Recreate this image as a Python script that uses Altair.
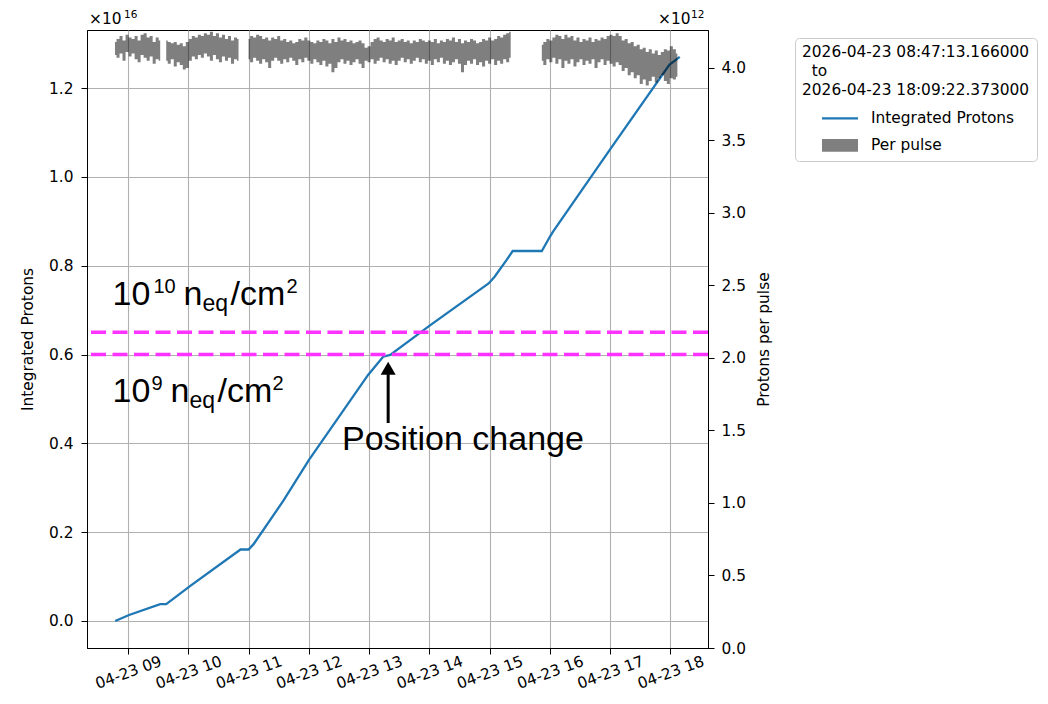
import altair as alt
import pandas as pd

DAY = "2026-04-23"

# ---------------- data ----------------
# Integrated protons (units of 1e16)
line_times = ["08:47:13", "09:01:00", "09:32:00", "09:38:00", "10:02:00", "10:52:00",
              "11:00:00", "11:05:00", "11:35:00", "12:00:00", "12:59:00", "13:14:00",
              "13:21:00", "14:01:00", "14:59:00", "15:05:00", "15:17:00", "15:23:00",
              "15:52:00", "16:00:00", "16:03:00", "17:00:00", "17:59:00", "18:09:22"]
line_vals = [0.000, 0.0135, 0.038, 0.038, 0.079, 0.161,
             0.161, 0.173, 0.272, 0.362, 0.554, 0.595,
             0.599, 0.666, 0.760, 0.775, 0.813, 0.833,
             0.833, 0.865, 0.876, 1.062, 1.252, 1.270]

# Protons per pulse band (units of 1e12): low / high envelope, 3-minute samples,
# four beam-on segments
seg_starts = ["08:47", "09:38", "11:00", "15:52"]
step_min = 3
seg_hi = [
    [4.18, 4.20, 4.22, 4.19, 4.23, 4.21, 4.20, 4.22, 4.19, 4.23, 4.24, 4.21, 4.22, 4.18, 4.21, 4.19],
    [4.19, 4.18, 4.17, 4.18, 4.16, 4.17, 4.15, 4.18, 4.20, 4.22, 4.21, 4.23, 4.22, 4.24, 4.23, 4.25,
     4.22, 4.24, 4.21, 4.23, 4.20, 4.22, 4.19, 4.21, 4.20],
    [4.20, 4.22, 4.21, 4.23, 4.22, 4.20, 4.21, 4.19, 4.21, 4.20,
     4.22, 4.19, 4.20, 4.18, 4.19, 4.17, 4.18, 4.20, 4.19, 4.21,
     4.19, 4.18, 4.17, 4.19, 4.18, 4.20, 4.19, 4.17, 4.20, 4.18,
     4.21, 4.19, 4.20, 4.18, 4.19, 4.17, 4.18, 4.19, 4.17, 4.14,
     4.15, 4.18, 4.20, 4.21, 4.19, 4.18, 4.20, 4.19, 4.21, 4.18,
     4.19, 4.20, 4.18, 4.19, 4.17, 4.19, 4.18, 4.20, 4.19, 4.18,
     4.19, 4.18, 4.20, 4.17, 4.19, 4.18, 4.20, 4.19, 4.21, 4.18,
     4.20, 4.17, 4.19, 4.18, 4.20, 4.19, 4.17, 4.18, 4.20, 4.19,
     4.21, 4.19, 4.20, 4.22, 4.21, 4.23, 4.24, 4.25],
    [4.16, 4.18, 4.20, 4.19, 4.21, 4.23, 4.22, 4.20, 4.23, 4.21,
     4.22, 4.19, 4.21, 4.18, 4.20, 4.19, 4.21, 4.18, 4.20, 4.19,
     4.21, 4.20, 4.22, 4.23, 4.22, 4.24, 4.22, 4.19, 4.20, 4.17,
     4.18, 4.15, 4.16, 4.13, 4.14, 4.11, 4.13, 4.10, 4.12, 4.09,
     4.11, 4.13, 4.12, 4.15, 4.13, 4.10],
]
seg_lo = [
    [4.09, 4.07, 4.10, 4.05, 4.11, 4.08, 4.10, 4.06, 4.04, 4.09, 4.07, 4.05, 4.08, 4.03, 4.06, 4.05],
    [4.05, 4.03, 4.06, 4.01, 4.04, 4.02, 3.99, 4.00, 4.05, 4.08, 4.06, 4.09, 4.07, 4.10, 4.08, 4.05,
     4.09, 4.06, 4.04, 4.08, 4.05, 4.07, 4.03, 4.06, 4.05],
    [4.06, 4.04, 4.07, 4.05, 4.03, 4.06, 4.04, 4.00, 4.05, 4.07,
     4.05, 4.03, 4.06, 4.04, 4.07, 4.05, 4.02, 4.06, 4.04, 4.07,
     4.05, 4.03, 4.06, 4.04, 4.02, 4.05, 4.01, 4.03, 3.97, 4.00,
     4.04, 4.06, 4.03, 4.05, 4.02, 4.04, 4.06, 4.03, 4.00, 4.05,
     4.04, 4.06, 4.03, 4.05, 4.07, 4.04, 4.06, 4.03, 4.05, 4.02,
     4.05, 4.07, 4.04, 4.06, 4.03, 4.05, 4.07, 4.04, 4.06, 4.03,
     4.05, 4.02, 4.06, 4.04, 4.07, 4.03, 4.05, 4.02, 4.04, 4.06,
     4.03, 3.97, 4.02, 4.05, 4.03, 4.06, 4.02, 4.04, 4.01, 4.05,
     4.03, 4.06, 4.02, 4.05, 4.03, 4.06, 4.04, 4.07],
    [4.05, 4.02, 4.06, 4.04, 4.07, 4.03, 4.06, 4.00, 4.05, 4.03,
     4.06, 4.01, 4.04, 4.06, 4.02, 4.05, 4.03, 4.06, 4.00, 4.04,
     4.06, 4.02, 4.05, 4.03, 4.01, 4.04, 4.02, 3.98, 4.00, 3.95,
     3.97, 3.93, 3.95, 3.89, 3.92, 3.88, 3.91, 3.94, 3.90, 3.93,
     3.95, 3.91, 3.89, 3.93, 3.92, 3.94],
]

thresholds = [0.60, 0.65]

legend_title = ["2026-04-23 08:47:13.166000", "\u200b\u00a0\u00a0to", "2026-04-23 18:09:22.373000"]
series_names = ["Integrated Protons", "Per pulse"]
series_colors = ["#1f77b4", "#7f7f7f"]

left_ticks = [0.0, 0.2, 0.4, 0.6, 0.8, 1.0, 1.2]
right_ticks = [0.0, 0.5, 1.0, 1.5, 2.0, 2.5, 3.0, 3.5, 4.0]
x_tick_hours = list(range(9, 19))

# annotation anchors (time, value in 1e16) and pieces (text, font size, dx, dy)
ann1 = ("08:44:30", 0.7114)
ann1_pieces = [("10", 34, 0, 0), ("10", 20, 41, -12), ("n", 34, 71, 0),
               ("eq", 23, 90, 6), ("/cm", 34, 118, 0), ("2", 20, 174, -12)]
ann2 = ("08:44:30", 0.4937)
ann2_pieces = [("10", 34, 0, 0), ("9", 20, 39, -12), ("n", 34, 58, 0),
               ("eq", 23, 77, 6), ("/cm", 34, 105, 0), ("2", 20, 160, -12)]
pos_text = ("12:33:00", 0.385, "Position change")
arrow_time = "13:19:00"
arrow_shaft = (0.4457, 0.5556)
arrow_head = 0.569

# ---------------- tables ----------------
def ts(hms):
    return pd.Timestamp(f"{DAY} {hms}")

line_df = pd.DataFrame({"t": [ts(s) for s in line_times], "v": line_vals})

rows = []
for seg, (start, lo, hi) in enumerate(zip(seg_starts, seg_lo, seg_hi)):
    t0 = ts(start)
    for i, (a, b) in enumerate(zip(lo, hi)):
        rows.append({"t": t0 + pd.Timedelta(minutes=step_min * i), "lo": a, "hi": b, "seg": seg})
pulse_df = pd.DataFrame(rows)

thr_df = pd.DataFrame({"v": thresholds})
leg_df = pd.DataFrame({"series": series_names})

# ---------------- scales / axes ----------------
def dt(h, m, s, ms=0):
    return alt.DateTime(year=2026, month=4, date=23, hours=h, minutes=m, seconds=s, milliseconds=ms)

x_scale = alt.Scale(domain=[dt(8, 19, 6, 700), dt(18, 37, 28, 800)])
yl_scale = alt.Scale(domain=[-0.0608, 1.3306], nice=False, zero=False)
yr_scale = alt.Scale(domain=[0.0, 4.262], nice=False, zero=False)

x_axis = alt.Axis(title=None, values=[dt(h, 0, 0) for h in x_tick_hours], format="%m-%d %H",
                  labelAngle=340, labelAlign="center", labelBaseline="middle", labelPadding=18,
                  labelOverlap=False, labelFlush=False, grid=True)
x_enc = alt.X("t:T", scale=x_scale, axis=x_axis, title=None)

yl_axis = alt.Axis(title="Integrated Protons", values=left_ticks, format=".1f", grid=True,
                   labelPadding=8, titleAngle=270, titleX=-59.5, titleY=309,
                   titleAlign="center", titleBaseline="middle")
yr_axis = alt.Axis(title="Protons per pulse", values=right_ticks, format=".1f", grid=False,
                   orient="right", labelPadding=7, titleAngle=270, titleX=55, titleY=309,
                   titleAlign="center", titleBaseline="middle")


def yl(field):
    return alt.Y(field, scale=yl_scale, axis=yl_axis, title="Integrated Protons")


# ---------------- left-axis layers ----------------
line = alt.Chart(line_df).mark_line(color="#1f77b4", strokeWidth=2.3).encode(
    x=x_enc, y=yl("v:Q"))

thr = alt.Chart(thr_df).mark_rule(color="#ff33ff", strokeWidth=3.5, strokeDash=[15, 6.5]).encode(
    y=yl("v:Q"))


def text_layer(anchor, text, size, dx, dy):
    df = pd.DataFrame({"t": [ts(anchor[0])], "v": [anchor[1]], "s": [text]})
    return alt.Chart(df).mark_text(align="left", baseline="alphabetic", font="Liberation Sans",
                                   fontSize=size, dx=dx, dy=dy, color="black").encode(
        x=x_enc, y=yl("v:Q"), text="s:N")


ann_layers = []
for txt, size, dx, dy in ann1_pieces:
    ann_layers.append(text_layer(ann1, txt, size, dx, dy))
for txt, size, dx, dy in ann2_pieces:
    ann_layers.append(text_layer(ann2, txt, size, dx, dy))
ann_layers.append(text_layer((pos_text[0], pos_text[1]), pos_text[2], 34, 0, 0))

shaft_df = pd.DataFrame({"t": [ts(arrow_time)], "v": [arrow_shaft[0]], "v2": [arrow_shaft[1]]})
shaft = alt.Chart(shaft_df).mark_rule(color="black", strokeWidth=3).encode(
    x=x_enc, y=yl("v:Q"), y2="v2:Q")
head_df = pd.DataFrame({"t": [ts(arrow_time)], "v": [arrow_head]})
head = alt.Chart(head_df).mark_point(shape="triangle-up", filled=True, size=225,
                                     color="black", opacity=1).encode(
    x=x_enc, y=yl("v:Q"))


# offset ("×10^n") labels above the axes
def offset_text(txt, size, px, py):
    return alt.Chart(pd.DataFrame({"s": [txt]})).mark_text(
        align="left", baseline="alphabetic", font="DejaVu Sans", fontSize=size, color="black").encode(
        x=alt.value(px), y=alt.value(py), text="s:N")


offsets = [offset_text("×10", 15.4, 2, -6.5), offset_text("16", 10.5, 37, -12.5),
           offset_text("×10", 15.4, 571, -6), offset_text("12", 10.5, 604, -12.5)]

# legend driver (invisible points)
leg = alt.Legend(title=legend_title, orient="none", legendX=708, legendY=8, padding=7,
                 strokeColor="#cccccc", fillColor="white", cornerRadius=4,
                 titleFont="DejaVu Sans", titleFontSize=15.4, titleFontWeight="normal",
                 titleColor="black", titleLimit=600, titleLineHeight=19, titlePadding=11,
                 titleAlign="left", titleAnchor="start",
                 labelFont="DejaVu Sans", labelFontSize=15.4, labelColor="black", labelLimit=600,
                 symbolSize=324, symbolStrokeWidth=0, symbolOpacity=1, symbolOffset=29,
                 labelOffset=22, rowPadding=9)
line_sym = "M-2,-0.13H2V0.13H-2Z"
rect_sym = "M-2,-0.7H2V0.7H-2Z"
legend_layer = alt.Chart(leg_df).mark_point(filled=True, opacity=0).encode(
    x=alt.value(0), y=alt.value(0),
    color=alt.Color("series:N", scale=alt.Scale(domain=series_names, range=series_colors), legend=leg),
    shape=alt.Shape("series:N", scale=alt.Scale(domain=series_names, range=[line_sym, rect_sym]), legend=leg))

left = alt.layer(line, thr, *ann_layers, shaft, head, *offsets, legend_layer)

# ---------------- right-axis layer ----------------
pulse = alt.Chart(pulse_df).mark_area(color="black", opacity=0.5, interpolate="step").encode(
    x=x_enc, y=alt.Y("lo:Q", scale=yr_scale, axis=yr_axis, title="Protons per pulse"),
    y2="hi:Q", detail="seg:N")

chart = alt.layer(left, pulse).resolve_scale(y="independent").properties(
    width=621, height=618,
    padding={"left": 87, "top": 30, "right": 340, "bottom": 56},
    autosize=alt.AutoSizeParams(type="none"),
).configure_view(stroke="black", strokeWidth=1).configure_axis(
    labelFont="DejaVu Sans", labelFontSize=15.4, labelColor="black",
    titleFont="DejaVu Sans", titleFontSize=15.4, titleFontWeight="normal", titleColor="black",
    domainColor="black", tickColor="black", tickSize=6, tickWidth=1,
    gridColor="#b0b0b0", gridWidth=1.1,
)

chart.save("out.html", embed_options={"renderer": "svg", "actions": False})
